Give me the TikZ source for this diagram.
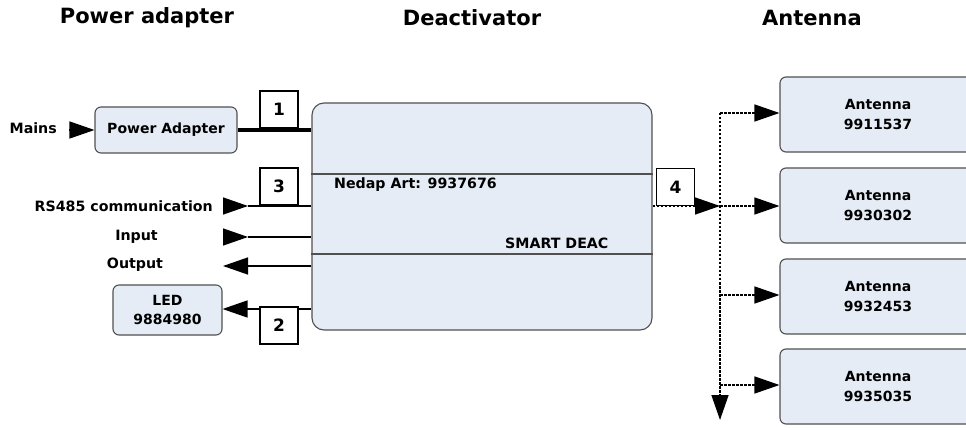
\documentclass[tikz,border=0pt]{standalone}
\usepackage{fontspec}
\setmainfont{DejaVu Sans}
\usetikzlibrary{arrows.meta}
\definecolor{boxfill}{HTML}{E5ECF6}
\definecolor{boxline}{HTML}{505050}
\begin{document}
\begin{tikzpicture}[x=1pt,y=-1pt,
  title/.style={font=\fontsize{21}{24}\selectfont\bfseries, inner sep=0pt},
  lbl/.style={font=\fontsize{14.2}{19}\selectfont\bfseries, inner sep=0pt, align=center},
  rbox/.style={draw=boxline, line width=1.1pt, fill=boxfill, rounded corners=6pt, inner sep=0pt,
    font=\fontsize{14}{19.5}\selectfont\bfseries, align=center},
  numbox/.style={draw=black, line width=1.5pt, fill=white, minimum width=38pt, minimum height=37pt,
    inner sep=0pt, font=\fontsize{17}{18}\selectfont\bfseries},
  tip/.style={-{Triangle[length=25pt,width=17pt]}},
  conn/.style={line width=1.4pt, black},
  dotl/.style={line width=1.4pt, black, dash pattern=on 2.5pt off 1.5pt},
]
\useasboundingbox (0,0) rectangle (966,430);

% titles
\node[title] (t1) at (147,18) {Power adapter};
\node[title] (t2) at (472,18) {Deactivator};
\node[title] (t3) at (812,18) {Antenna};

% main box
\node[draw=boxline, line width=1.1pt, fill=boxfill, rounded corners=12pt, minimum width=340pt,
  minimum height=227pt, inner sep=0pt] (main) at (482,216.5) {};
\draw[boxline, line width=1.1pt] (main.west |- 0,174) -- (main.east |- 0,174);
\draw[boxline, line width=1.1pt] (main.west |- 0,254) -- (main.east |- 0,254);
\node[lbl, anchor=west] (art) at (334,185) {Nedap Art: 9937676};
\node[lbl, anchor=west] (smart) at (505,243) {SMART DEAC};

% power adapter
\node[rbox, minimum width=142pt, minimum height=46pt] (pa) at (166,130) {Power Adapter};
\node[lbl, anchor=east] (mains) at (57,128) {Mains};
\coordinate (mainsarr) at (69,130);
\draw[conn, tip] (mainsarr) -- (pa.west);
\draw[line width=4pt] (pa.east) -- (main.west |- pa.east);
\node[numbox] (n1) at (279,109.5) {1};

% RS485 / input / output
\node[lbl, anchor=east] (rs) at (213,206) {RS485 communication};
\node[lbl] (inp) at (136.5,237) {Input};
\node[lbl] (outp) at (135,265) {Output};
\coordinate (rsarr) at (223,206);
\coordinate (rstip) at (248,206);
\coordinate (inarr) at (223,237);
\coordinate (intip) at (248,237);
\coordinate (outarr) at (223,266);
\draw[conn] (rstip) -- (main.west |- rstip);
\draw[conn, tip] (rsarr) -- (rstip);
\draw[conn] (intip) -- (main.west |- intip);
\draw[conn, tip] (inarr) -- (intip);
\draw[conn, tip] (main.west |- outarr) -- (outarr);
\node[numbox] (n3) at (279,186.5) {3};

% LED
\node[rbox, minimum width=109pt, minimum height=50pt] (led) at (167.5,310) {LED\\9884980};
\draw[conn, tip] (main.west |- 0,309) -- (led.east |- 0,309);
\node[numbox] (n2) at (279,325.5) {2};

% antennas
\node[rbox, minimum width=196pt, minimum height=75pt] (a1) at (878,114.5) {Antenna\\9911537};
\node[rbox, minimum width=196pt, minimum height=75pt] (a2) at (878,205.5) {Antenna\\9930302};
\node[rbox, minimum width=196pt, minimum height=75pt] (a3) at (878,296.5) {Antenna\\9932453};
\node[rbox, minimum width=196pt, minimum height=75pt] (a4) at (878,386.5) {Antenna\\9935035};

\coordinate (bus) at (720,206);
\coordinate (bustop) at (720,113);
\coordinate (busbot) at (720,420);
\draw[dotl, tip] (main.east |- bus) -- (bus);
\draw[dotl] (bustop) -- (bus);
\draw[dotl, tip] (bus) -- (busbot);
\draw[dotl, tip] (bustop) -- (a1.west |- bustop);
\draw[dotl, tip] (bus) -- (a2.west |- bus);
\draw[dotl, tip] (720,295) coordinate (b3) -- (a3.west |- b3);
\draw[dotl, tip] (720,385) coordinate (b4) -- (a4.west |- b4);
\node[numbox] (n4) at (675.5,187) {4};
\end{tikzpicture}
\end{document}
